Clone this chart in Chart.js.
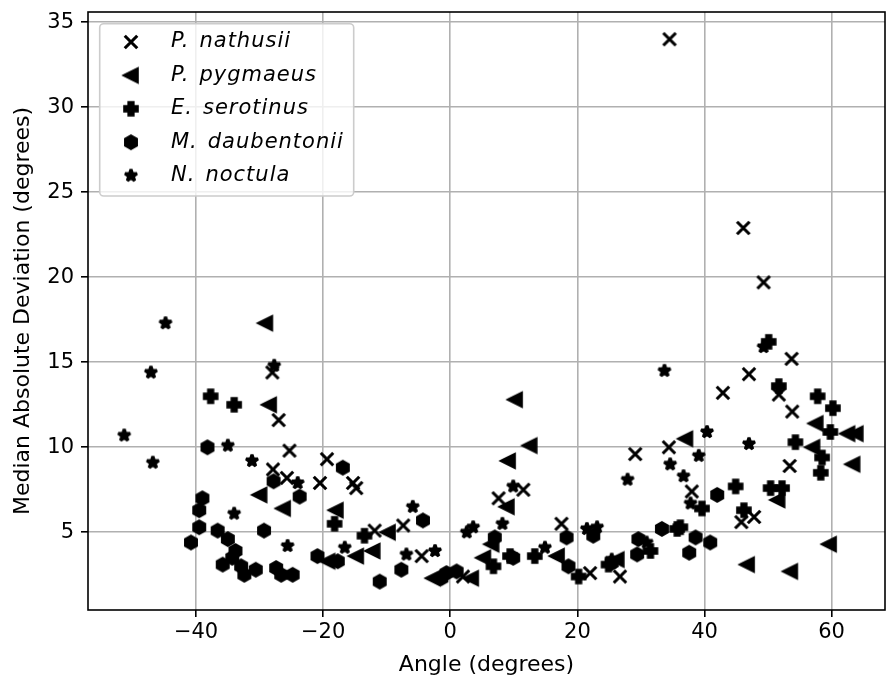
<!DOCTYPE html>
<html>
<head>
<meta charset="utf-8">
<script src="https://cdn.jsdelivr.net/npm/chart.js@4.4.0/dist/chart.umd.min.js"></script>
<style>
  html, body { margin: 0; padding: 0; background: #fff; }
  canvas { display: block; }
</style>
</head>
<body>
<canvas id="chart" width="887" height="681"></canvas>
<script>
// values (angle in degrees, median absolute deviation)
const speciesNames = ['P. nathusii', 'P. pygmaeus', 'E. serotinus', 'M. daubentonii', 'N. noctula'];

const nathusiiAngle = [-28.0, -27.0, -25.3, -27.9, -25.7, -19.4, -20.5, -15.3, -14.8, -11.9, -7.4, -4.5, 2.0, 7.6, 11.5, 17.5, 22.0, 26.7, 29.1, 34.4, 34.5, 46.1, 49.3, 38.0, 42.9, 47.0, 51.7, 53.7, 53.8, 53.4, 45.8, 47.8];
const nathusiiMad = [14.4, 11.6, 9.8, 8.7, 8.2, 9.3, 7.9, 7.9, 7.6, 5.1, 5.4, 3.6, 2.4, 7.0, 7.5, 5.5, 2.6, 2.4, 9.6, 10.0, 34.0, 22.9, 19.7, 7.4, 13.2, 14.3, 13.1, 15.2, 12.1, 8.9, 5.6, 5.9];

const pygmaeusAngle = [-29.1, -28.5, -30.0, -26.3, -18.0, -9.8, -12.2, -14.8, -19.3, -2.7, 3.3, 5.2, 6.5, 8.9, 9.1, 10.2, 12.5, 16.8, 26.2, 37.0, 46.7, 51.5, 53.5, 57.0, 57.5, 59.6, 62.5, 63.8, 63.3];
const pygmaeusMad = [17.3, 12.5, 7.2, 6.4, 6.3, 5.0, 3.9, 3.6, 3.3, 2.3, 2.3, 3.5, 4.3, 6.5, 9.2, 12.8, 10.1, 3.6, 3.4, 10.5, 3.1, 6.9, 2.7, 10.0, 11.4, 4.3, 10.8, 10.8, 9.0];

const serotinusAngle = [-37.7, -34.0, -18.2, -13.5, 6.8, 9.4, 13.3, 20.2, 24.9, 31.5, 35.7, 50.1, 51.7, 57.8, 60.2, 59.8, 54.3, 58.5, 58.3, 50.4, 52.2, 44.9, 46.2, 39.6, 36.2];
const serotinusMad = [13.0, 12.5, 5.5, 4.8, 3.0, 3.6, 3.6, 2.4, 3.1, 3.9, 5.2, 16.2, 13.6, 13.0, 12.3, 10.9, 10.3, 9.4, 8.5, 7.6, 7.6, 7.7, 6.3, 6.4, 5.3];

const daubentoniiAngle = [-38.2, -39.0, -39.5, -39.5, -40.8, -36.6, -35.0, -33.8, -35.8, -32.9, -32.4, -30.6, -29.3, -27.4, -26.6, -24.8, -27.8, -16.9, -23.7, -4.3, -20.9, -17.7, -11.1, -7.7, -0.6, 1.0, -1.4, 18.3, 22.5, 18.6, 29.6, 29.4, 33.3, 9.9, 7.0, 25.4, 42.0, 38.6, 40.9, 37.6, -34.3];
const daubentoniiMad = [10.0, 7.0, 6.3, 5.3, 4.4, 5.1, 4.6, 3.9, 3.1, 3.0, 2.5, 2.8, 5.1, 2.9, 2.5, 2.5, 8.0, 8.8, 7.1, 5.7, 3.6, 3.3, 2.1, 2.8, 2.6, 2.7, 2.3, 4.7, 4.8, 3.0, 4.6, 3.7, 5.2, 3.5, 4.7, 3.2, 7.2, 4.7, 4.4, 3.8, 3.5];

const noctulaAngle = [-44.8, -47.1, -51.3, -35.0, -27.7, -46.8, -31.2, -34.0, -25.6, -24.0, -5.9, -16.6, -6.9, -2.4, 2.6, 3.6, 9.9, 8.2, 14.9, 23.1, 21.5, 25.4, 27.9, 34.6, 30.9, 49.3, 40.4, 47.0, 39.1, 36.7, 37.8, 33.7];
const noctulaMad = [17.3, 14.4, 10.7, 10.1, 14.8, 9.1, 9.2, 6.1, 4.2, 7.9, 6.5, 4.1, 3.7, 3.9, 5.0, 5.3, 7.7, 5.5, 4.1, 5.3, 5.2, 3.4, 8.1, 9.0, 4.4, 15.9, 10.9, 10.2, 9.5, 8.3, 6.7, 14.5];

const xTicks = [-40, -20, 0, 20, 40, 60];
const yTicks = [5, 10, 15, 20, 25, 30, 35];

const FONT = '"DejaVu Sans", sans-serif';
const TICK_SIZE = 21;
const TITLE_SIZE = 22;
const R = 6.25;      // half marker size
const EDGE = 3.1;    // marker edge width

function markerCanvas(paint) {
  const c = document.createElement('canvas');
  c.width = 24;
  c.height = 24;
  const g = c.getContext('2d');
  g.translate(12, 12);
  g.fillStyle = '#000';
  g.strokeStyle = '#000';
  g.lineWidth = EDGE;
  paint(g);
  return c;
}

const xMarker = markerCanvas(g => {
  g.lineCap = 'butt';
  g.beginPath();
  g.moveTo(-R, -R); g.lineTo(R, R);
  g.moveTo(-R, R); g.lineTo(R, -R);
  g.stroke();
});

const triangleMarker = markerCanvas(g => {
  g.lineJoin = 'miter';
  g.beginPath();
  g.moveTo(-R, 0); g.lineTo(R, -R); g.lineTo(R, R);
  g.closePath();
  g.fill(); g.stroke();
});

const plusMarker = markerCanvas(g => {
  g.lineJoin = 'miter';
  const pts = [[-1, -3], [-1, -1], [-3, -1], [-3, 1], [-1, 1], [-1, 3], [1, 3], [1, 1], [3, 1], [3, -1], [1, -1], [1, -3]];
  g.beginPath();
  pts.forEach(([px, py], i) => {
    const x = px / 3 * R, y = py / 3 * R;
    if (i === 0) g.moveTo(x, y); else g.lineTo(x, y);
  });
  g.closePath();
  g.fill(); g.stroke();
});

const hexMarker = markerCanvas(g => {
  g.lineJoin = 'miter';
  g.beginPath();
  for (let i = 0; i < 6; i++) {
    const a = -Math.PI / 2 + i * Math.PI / 3;
    const x = R * Math.cos(a), y = R * Math.sin(a);
    if (i === 0) g.moveTo(x, y); else g.lineTo(x, y);
  }
  g.closePath();
  g.fill(); g.stroke();
});

const starMarker = markerCanvas(g => {
  g.lineJoin = 'bevel';
  g.beginPath();
  for (let i = 0; i < 10; i++) {
    const a = -Math.PI / 2 + i * Math.PI / 5;
    const r = i % 2 === 0 ? R : R * 0.381966;
    const x = r * Math.cos(a), y = r * Math.sin(a);
    if (i === 0) g.moveTo(x, y); else g.lineTo(x, y);
  }
  g.closePath();
  g.fill(); g.stroke();
});

const toPoints = (xs, ys) => xs.map((x, i) => ({ x: x, y: ys[i] }));

const series = [
  [nathusiiAngle, nathusiiMad, xMarker],
  [pygmaeusAngle, pygmaeusMad, triangleMarker],
  [serotinusAngle, serotinusMad, plusMarker],
  [daubentoniiAngle, daubentoniiMad, hexMarker],
  [noctulaAngle, noctulaMad, starMarker]
];

const datasets = series.map(([xs, ys, marker], i) => ({
  label: speciesNames[i],
  data: toPoints(xs, ys),
  pointStyle: marker,
  pointRadius: 7,
  order: series.length - i
}));

// spines on all four sides plus the boxed legend in the upper left
const frameAndLegend = {
  id: 'frameAndLegend',
  afterDatasetsDraw(chart) {
    const { ctx, chartArea: a } = chart;
    ctx.save();
    ctx.strokeStyle = '#000';
    ctx.lineWidth = 1.6;
    ctx.strokeRect(a.left, a.top, a.right - a.left, a.bottom - a.top);

    ctx.beginPath();
    ctx.roundRect(99.7, 23.7, 254, 172.3, 4);
    ctx.fillStyle = 'rgba(255,255,255,0.8)';
    ctx.fill();
    ctx.strokeStyle = '#cccccc';
    ctx.lineWidth = 1.6;
    ctx.stroke();

    ctx.font = 'italic ' + TICK_SIZE + 'px ' + FONT;
    ctx.fillStyle = '#000';
    ctx.textBaseline = 'middle';
    ctx.textAlign = 'left';
    ctx.letterSpacing = '1px';
    chart.data.datasets.forEach((ds, i) => {
      const rowY = 42 + i * 33.4;
      const img = ds.pointStyle;
      ctx.drawImage(img, 131 - img.width / 2, rowY - img.height / 2);
      const [genus, species] = ds.label.split(' ');
      ctx.fillText(genus, 171, rowY);
      ctx.fillText(species, 171 + ctx.measureText(genus).width + 10, rowY);
    });
    ctx.restore();
  }
};

const tickFont = { family: FONT, size: TICK_SIZE };
const titleFont = { family: FONT, size: TITLE_SIZE };

new Chart(document.getElementById('chart').getContext('2d'), {
  type: 'scatter',
  data: { datasets: datasets },
  options: {
    responsive: false,
    animation: false,
    layout: { autoPadding: false, padding: { top: 12, right: 2, bottom: 0, left: 0 } },
    plugins: {
      legend: { display: false },
      tooltip: { enabled: false }
    },
    scales: {
      x: {
        type: 'linear',
        min: -57,
        max: 68.4,
        afterFit(scale) {
          scale.height = 71;
          scale.paddingLeft = 0;
          scale.paddingRight = 0;
        },
        afterBuildTicks(scale) { scale.ticks = xTicks.map(v => ({ value: v })); },
        border: { display: false },
        grid: { color: '#b0b0b0', lineWidth: 1.6, tickLength: 7, tickColor: '#000', tickWidth: 1.6 },
        ticks: {
          color: '#000',
          font: tickFont,
          padding: 3,
          maxRotation: 0,
          callback: v => String(v).replace('-', '\u2212')
        },
        title: {
          display: true,
          text: 'Angle (degrees)',
          color: '#000',
          font: titleFont,
          padding: { top: 0, bottom: 3 }
        }
      },
      y: {
        type: 'linear',
        min: 0.43,
        max: 35.6,
        afterFit(scale) {
          scale.width = 88;
          scale.paddingTop = 0;
          scale.paddingBottom = 0;
        },
        afterBuildTicks(scale) { scale.ticks = yTicks.map(v => ({ value: v })); },
        border: { display: false },
        grid: { color: '#b0b0b0', lineWidth: 1.6, tickLength: 7, tickColor: '#000', tickWidth: 1.6 },
        ticks: {
          color: '#000',
          font: tickFont,
          padding: 7
        },
        title: {
          display: true,
          text: 'Median Absolute Deviation (degrees)',
          color: '#000',
          font: titleFont,
          padding: { top: 10, bottom: 0 }
        }
      }
    }
  },
  plugins: [frameAndLegend]
});
</script>
</body>
</html>
